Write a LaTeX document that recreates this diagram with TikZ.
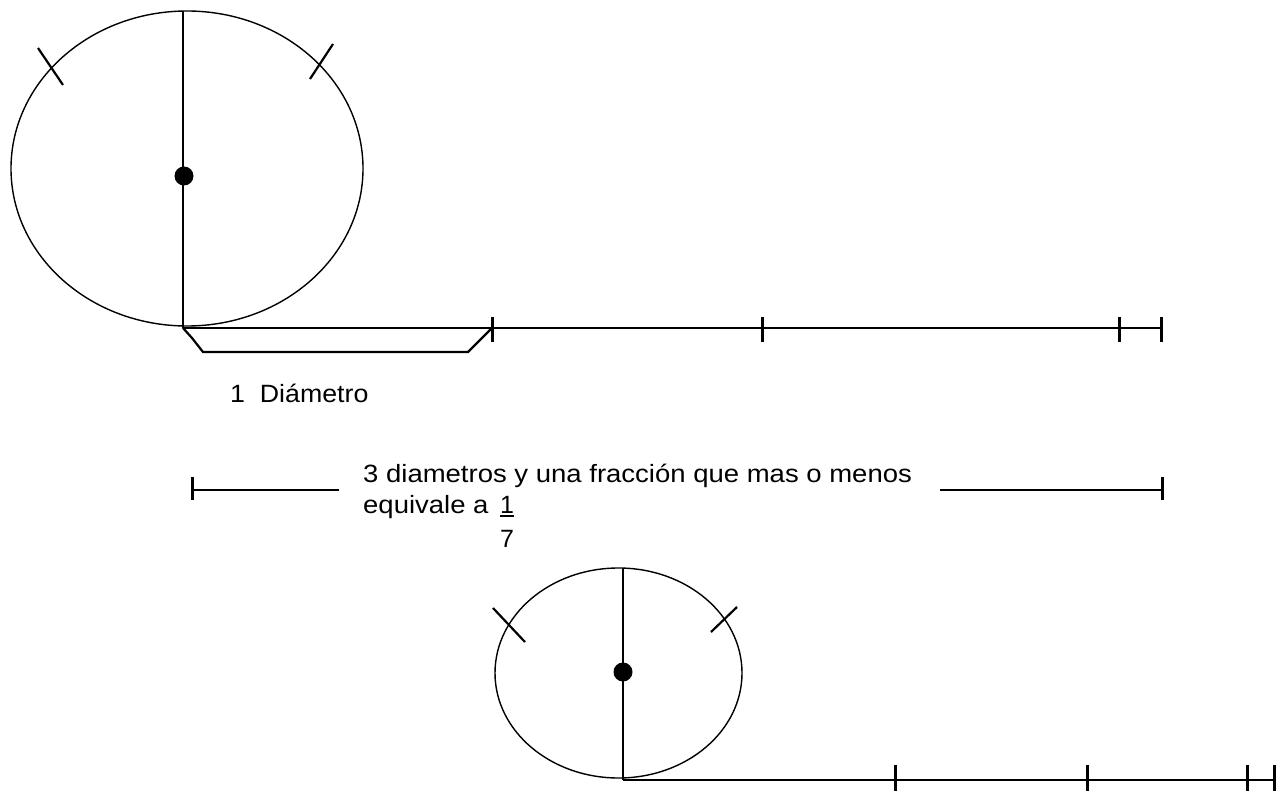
\documentclass[tikz,border=0pt]{standalone}
\usepackage{fontspec}
\setmainfont{Liberation Sans}
\newcommand{\wide}[1]{\scalebox{1.1}[1]{#1}}
\begin{document}
\begin{tikzpicture}[x=1pt,y=-1pt,
  rim/.style={line width=1.4pt},
  bar/.style={line width=2.8pt},
  tickmark/.style={line width=3pt},
  thinbar/.style={line width=2.2pt},
  lbl/.style={font=\fontsize{25}{30}\selectfont, inner sep=0pt, anchor=base west}]
\useasboundingbox (0,0) rectangle (1281,791);
% top circle
\draw[rim] (187,168.5) ellipse [x radius=176pt, y radius=157.5pt];
\coordinate (ttop) at (183,11);
\coordinate (a0) at (183,328);
\draw[thinbar] (ttop) -- (a0);
\fill (184,176) circle [radius=9.5pt];
\draw[thinbar] (38,48) -- (63,85);
\draw[thinbar] (333,44) -- (310,79);
% top line
\coordinate (a1) at (492,328);
\coordinate (a2) at (762,328);
\coordinate (a3) at (1119,328);
\coordinate (a4) at (1161,328);
\draw[bar] (a0) -- (a4);
\foreach \c in {a1,a2,a3,a4} \draw[tickmark] ([yshift=11pt]\c) -- ([yshift=-14pt]\c);
% bracket
\draw[thinbar] (a0) -- (192,338) -- (203,352) -- (468,352) -- (a1);
\node[lbl] (d1) at (230,402) {\scalebox{1.07}[1]{1\ \ Diámetro}};
% middle measure
\coordinate (m0) at (192,490);
\coordinate (m1) at (339,490);
\coordinate (m2) at (940,490);
\coordinate (m3) at (1162,490);
\draw[bar] (m0) -- (m1);
\draw[bar] (m2) -- (m3);
\draw[tickmark] ([yshift=13pt]m0) -- ([yshift=-10pt]m0);
\draw[tickmark] ([yshift=13pt]m3) -- ([yshift=-10pt]m3);
\node[lbl] (t1) at (363,482) {\wide{3 diametros y una fracción que mas o menos}};
\node[lbl] (t2) at (363,513) {\wide{equivale a}};
\node[lbl] (n1) at (500,513) {1};
\draw[thinbar] ([yshift=-3pt]n1.base west) -- ([yshift=-3pt]n1.base east);
\node[lbl] (n7) at (500,547) {7};
% bottom circle
\draw[rim] (618.5,673) ellipse [x radius=123.5pt, y radius=105pt];
\coordinate (btop) at (623,568);
\coordinate (b0) at (623,780);
\draw[thinbar] (btop) -- (b0);
\fill (623,672) circle [radius=9.5pt];
\draw[thinbar] (493,608) -- (525,642);
\draw[thinbar] (737,607) -- (711,632);
\coordinate (b1) at (895,780);
\coordinate (b2) at (1087,780);
\coordinate (b3) at (1247,780);
\coordinate (b4) at (1274,780);
\draw[bar] (b0) -- (b4);
\foreach \c in {b1,b2,b3,b4} \draw[tickmark] ([yshift=15pt]\c) -- ([yshift=-11pt]\c);
\end{tikzpicture}
\end{document}
